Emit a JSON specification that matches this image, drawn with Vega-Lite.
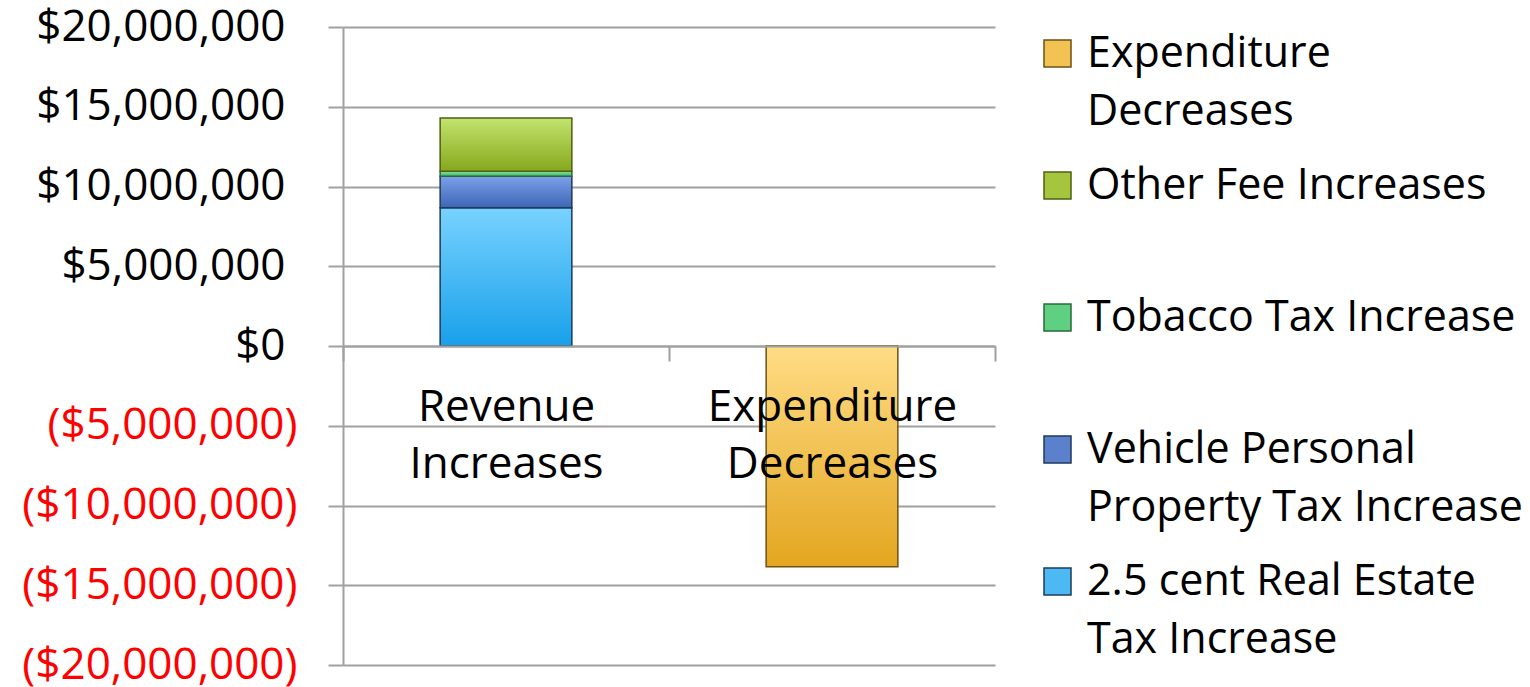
{
  "$schema": "https://vega.github.io/schema/vega-lite/v6.json",
  "width": 652,
  "height": 638,
  "autosize": {"type": "none"},
  "padding": {"left": 343, "top": 27, "right": 535, "bottom": 22},
  "config": {
    "view": {"stroke": null},
    "font": "Open Sans",
    "axis": {"labelFont": "Open Sans", "labelColor": "#000000"}
  },
  "data": {
    "values": [
      {"category": "Revenue Increases", "series": "2.5 cent Real Estate Tax Increase", "value": 8660000, "order": 1},
      {"category": "Revenue Increases", "series": "Vehicle Personal Property Tax Increase", "value": 1980000, "order": 2},
      {"category": "Revenue Increases", "series": "Tobacco Tax Increase", "value": 310000, "order": 3},
      {"category": "Revenue Increases", "series": "Other Fee Increases", "value": 3350000, "order": 4},
      {"category": "Expenditure Decreases", "series": "Expenditure Decreases", "value": -13840000, "order": 5}
    ]
  },
  "encoding": {
    "x": {
      "field": "category",
      "type": "nominal",
      "sort": ["Revenue Increases", "Expenditure Decreases"],
      "scale": {"paddingInner": 0, "paddingOuter": 0},
      "axis": {
        "title": null,
        "offset": -319,
        "tickBand": "extent",
        "tickSize": 15,
        "tickColor": "#a0a0a0",
        "tickWidth": 2,
        "domainColor": "#a0a0a0",
        "domainWidth": 2,
        "labelAngle": 0,
        "labelFontSize": 44,
        "labelPadding": 24,
        "labelLineHeight": 57,
        "labelExpr": "split(datum.label, ' ')",
        "labelLimit": 400,
        "zindex": 2
      }
    },
    "y": {
      "field": "value",
      "type": "quantitative",
      "stack": "zero",
      "scale": {"domain": [-20000000, 20000000], "nice": false},
      "axis": {
        "title": null,
        "values": [-20000000, -15000000, -10000000, -5000000, 0, 5000000, 10000000, 15000000, 20000000],
        "labelExpr": "datum.value < 0 ? '(' + format(-datum.value, '$,') + ')' : format(datum.value, '$,')",
        "labelColor": {"condition": {"test": "datum.value < 0", "value": "#ff0000"}, "value": "#000000"},
        "labelPadding": {"condition": {"test": "datum.value < 0", "value": 31}, "value": 43},
        "labelFontSize": 44,
        "labelLimit": 400,
        "tickSize": 15,
        "tickColor": "#a0a0a0",
        "tickWidth": 2,
        "domainColor": "#a0a0a0",
        "domainWidth": 2,
        "gridColor": "#a0a0a0",
        "gridWidth": 2,
        "zindex": 0
      }
    },
    "order": {"field": "order", "type": "quantitative"}
  },
  "layer": [
    {
      "mark": {"type": "bar", "width": {"band": 0.404}},
      "encoding": {
        "color": {
          "field": "series",
          "type": "nominal",
          "scale": {
            "domain": ["Expenditure Decreases", "Other Fee Increases", "Tobacco Tax Increase", "Vehicle Personal Property Tax Increase", "2.5 cent Real Estate Tax Increase"],
            "range": ["#f2c253", "#a5c53f", "#5fcf82", "#5b80cc", "#4cb9f3"]
          },
          "legend": {
            "title": null,
            "orient": "none",
            "legendX": 693,
            "legendY": 5,
            "symbolType": "square",
            "symbolSize": 729,
            "symbolOpacity": 1,
            "labelFontSize": 43,
            "labelFont": "Open Sans",
            "labelColor": "#000000",
            "labelLimit": 500,
            "labelOffset": 8,
            "rowPadding": 30,
            "labelExpr": "datum.label == 'Expenditure Decreases' ? ['Expenditure', 'Decreases'] : datum.label == 'Vehicle Personal Property Tax Increase' ? ['Vehicle Personal', 'Property Tax Increase'] : datum.label == '2.5 cent Real Estate Tax Increase' ? ['2.5 cent Real Estate', 'Tax Increase'] : [datum.label, '']",
            "encode": {
              "labels": {"update": {"lineHeight": {"value": 58}}},
              "symbols": {
                "update": {
                  "stroke": [
                    {"test": "datum.value === 'Expenditure Decreases'", "value": "#6b5214"},
                    {"test": "datum.value === 'Other Fee Increases'", "value": "#4f5f14"},
                    {"test": "datum.value === 'Tobacco Tax Increase'", "value": "#2a6a3a"},
                    {"value": "#1f3a5c"}
                  ],
                  "strokeWidth": {"value": 1.5}
                }
              }
            }
          }
        }
      }
    },
    {
      "mark": {"type": "bar", "width": {"band": 0.404}, "strokeWidth": 1.5},
      "encoding": {
        "detail": {"field": "series", "type": "nominal"},
        "fill": {
          "condition": [
            {"test": "datum.series === 'Expenditure Decreases'", "value": {"gradient": "linear", "x1": 0, "y1": 0, "x2": 0, "y2": 1, "stops": [{"offset": 0, "color": "#ffdc85"}, {"offset": 1, "color": "#e3a620"}]}},
            {"test": "datum.series === 'Other Fee Increases'", "value": {"gradient": "linear", "x1": 0, "y1": 0, "x2": 0, "y2": 1, "stops": [{"offset": 0, "color": "#c3e46e"}, {"offset": 1, "color": "#86a81c"}]}},
            {"test": "datum.series === 'Tobacco Tax Increase'", "value": {"gradient": "linear", "x1": 0, "y1": 0, "x2": 0, "y2": 1, "stops": [{"offset": 0, "color": "#8ee0a6"}, {"offset": 1, "color": "#38b760"}]}},
            {"test": "datum.series === 'Vehicle Personal Property Tax Increase'", "value": {"gradient": "linear", "x1": 0, "y1": 0, "x2": 0, "y2": 1, "stops": [{"offset": 0, "color": "#7da0ea"}, {"offset": 1, "color": "#3c66b4"}]}}
          ],
          "value": {"gradient": "linear", "x1": 0, "y1": 0, "x2": 0, "y2": 1, "stops": [{"offset": 0, "color": "#78d2ff"}, {"offset": 1, "color": "#18a0ea"}]}
        },
        "stroke": {
          "condition": [
            {"test": "datum.series === 'Expenditure Decreases'", "value": "#6b5214"},
            {"test": "datum.series === 'Other Fee Increases'", "value": "#4f5f14"},
            {"test": "datum.series === 'Tobacco Tax Increase'", "value": "#2a6a3a"}
          ],
          "value": "#1f3a5c"
        }
      }
    }
  ]
}
